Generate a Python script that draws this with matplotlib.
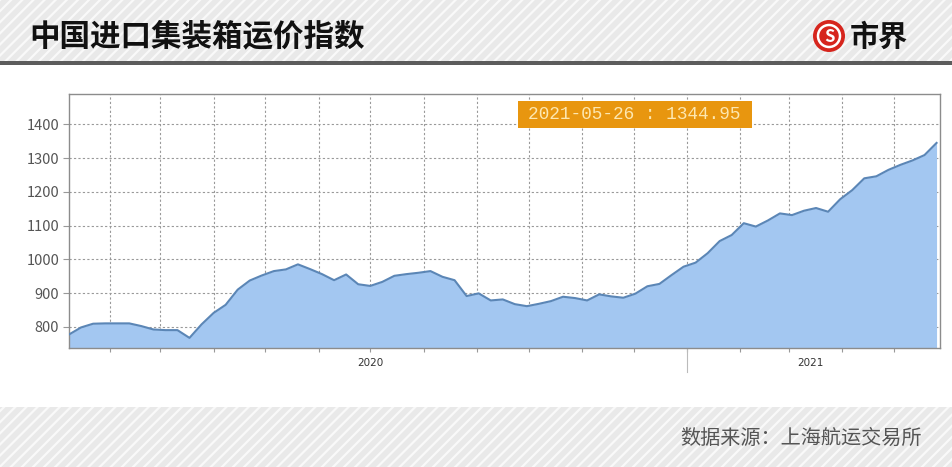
import numpy as np
import pandas as pd
import matplotlib
matplotlib.use('Agg')
import matplotlib.pyplot as plt
import matplotlib.dates as mdates
import matplotlib.transforms as mtransforms
from matplotlib.patches import Rectangle, Circle

plt.rcParams['font.family'] = ['Noto Sans CJK SC', 'DejaVu Sans']

# 中国进口集装箱运价指数 周度数据
start_date = '2020-01-08'
index_values = [777, 798, 809, 810, 810, 810, 802, 792, 790, 790,
                767, 807, 841, 865, 910, 937, 952, 965, 970, 985,
                971, 956, 938, 955, 926, 921, 933, 951, 956, 960,
                965, 948, 938, 891, 899, 878, 881, 867, 861, 868,
                876, 889, 885, 878, 896, 890, 886, 898, 920, 927,
                953, 978, 990, 1018, 1054, 1072, 1107, 1097, 1115, 1136,
                1131, 1144, 1152, 1141, 1178, 1205, 1240, 1246, 1265, 1280,
                1293, 1309, 1344.95]
dates = pd.date_range(start_date, periods=len(index_values), freq='7D')
y_ticks = [800, 900, 1000, 1100, 1200, 1300, 1400]
year_labels = ['2020', '2021']
year_label_pos = ['2020-07-01', '2021-03-14']
last_label = '2021-05-26 : 1344.95'
title = '中国进口集装箱运价指数'
source = '数据来源：上海航运交易所'

fig = plt.figure(figsize=(9.53, 4.67), dpi=100)
W, H = 953, 467

def fx(px):
    return px / W

def fy(py):
    return 1 - py / H

# 背景条纹 header / footer
plt.rcParams['hatch.linewidth'] = 1.6
hdr = Rectangle((0, fy(61)), 1, 61 / H, transform=fig.transFigure, facecolor='#e9e9e9',
                edgecolor='#f9f9f9', hatch='///', linewidth=0, zorder=0)
fig.patches.append(hdr)
bar = Rectangle((0, fy(65)), 1, 4 / H, transform=fig.transFigure, facecolor='#5c5c5c',
                linewidth=0, zorder=1)
fig.patches.append(bar)
ftr = Rectangle((0, 0), 1, fy(407), transform=fig.transFigure, facecolor='#e9e9e9',
                edgecolor='#f9f9f9', hatch='///', linewidth=0, zorder=0)
fig.patches.append(ftr)

fig.text(fx(29), fy(36), title, fontsize=22, fontweight='bold', color='#111111',
         ha='left', va='center')

# logo (像素->英寸坐标, 保证是正圆)
lx, ly = 8.29, 4.67 - 0.36
fig.patches.append(Circle((lx, ly), 0.16, transform=fig.dpi_scale_trans,
                          facecolor='#d6251d', edgecolor='none', zorder=2))
fig.patches.append(Circle((lx, ly), 0.11, transform=fig.dpi_scale_trans,
                          facecolor='none', edgecolor='white', linewidth=1.8, zorder=3))
fig.text(fx(829), fy(37), 'S', fontsize=12, fontweight='bold', color='white',
         ha='center', va='center', zorder=4)
fig.text(fx(850), fy(37), '市界', fontsize=21, fontweight='bold', color='#111111',
         ha='left', va='center')

fig.text(fx(922), fy(438), source, fontsize=14.5, color='#555555',
         ha='right', va='center')

# 主图
ax = fig.add_axes([fx(69), fy(348), fx(940) - fx(69), (348 - 94) / H])
ax.fill_between(dates, index_values, 700, color='#a3c7f1', linewidth=0, zorder=2)
ax.plot(dates, index_values, color='#5b86b6', linewidth=1.5, zorder=3)

ax.set_ylim(737, 1490)
ax.set_xlim(dates[0], dates[-1] + pd.Timedelta(days=2))
ax.set_yticks(y_ticks)
ax.tick_params(axis='y', labelsize=10.5, colors='#999999', length=4, width=0.8, pad=3)
ax.tick_params(axis='y', labelcolor='#555555')
ax.xaxis.set_major_locator(mdates.MonthLocator())
ax.xaxis.set_major_formatter(plt.NullFormatter())
ax.tick_params(axis='x', length=3, width=0.8, colors='#999999', direction='out')
ax.grid(True, linestyle=(0, (2, 2)), color='#999999', linewidth=0.8, zorder=1)
ax.set_axisbelow(True)
for sp in ax.spines.values():
    sp.set_color('#8c8c8c')
    sp.set_linewidth(1.0)

trans = mtransforms.blended_transform_factory(ax.transData, ax.transAxes)
jan1 = mdates.date2num(pd.Timestamp('2021-01-01'))
ax.plot([jan1, jan1], [0, -0.095], transform=trans, color='#bbbbbb',
        linewidth=0.8, clip_on=False)
for lab, pos in zip(year_labels, year_label_pos):
    ax.text(mdates.date2num(pd.Timestamp(pos)), -0.06, lab, transform=trans,
            fontsize=7.5, color='#333333', ha='center', va='center',
            family='DejaVu Sans')

# 最新值标签
bx0 = (517.7 - 69) / 871
by0 = (348 - 128.3) / 254
ax.add_patch(Rectangle((bx0, by0), 234 / 871, 27 / 254, transform=ax.transAxes,
                       facecolor='#e8960f', edgecolor='none', zorder=5))
ax.text(bx0 + 117 / 871, by0 + 13.5 / 254, last_label, transform=ax.transAxes,
        fontsize=12.8, color='#fde7b0', ha='center', va='center',
        family='Liberation Mono', zorder=6)

fig.savefig('out.png', dpi=100)
